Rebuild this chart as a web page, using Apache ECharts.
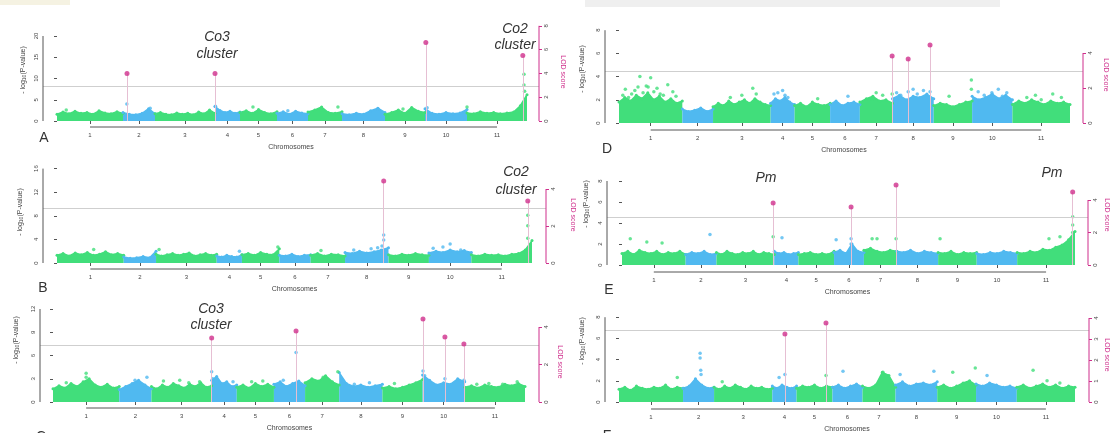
<!DOCTYPE html>
<html>
<head>
<meta charset="utf-8">
<script src="https://cdn.jsdelivr.net/npm/echarts@6/dist/echarts.min.js"></script>
<style>
html,body{margin:0;padding:0;background:#fff;}
#chart{width:1113px;height:433px;}
</style>
</head>
<body>
<div id="chart"></div>
<script>
// ---- genome map: 11 chromosomes laid end to end ----
const chromosomes = ['1','2','3','4','5','6','7','8','9','10','11'];
const chrLength = [66, 32, 60, 25, 37, 31, 34, 43, 40, 42, 60];

// ---- panel A ----
const pTicksA = [0, 5, 10, 15, 20];
const lodTicksA = [0, 2, 4, 6, 8];
const thresholdA = 8.2;
const bandA = [
  [1.6,2.1,1.7,2.3,1.8,2.0,1.6,2.4,1.9,1.7,2.2,1.8],
  [2.0,1.6,1.5,1.8,2.9,1.7],
  [1.7,2.0,1.6,1.5,1.9,1.6,1.8,1.5,2.1,1.7,2.6,1.8],
  [3.4,2.5,2.0,2.3,1.8,2.1],
  [2.0,2.4,1.8,2.7,2.0,1.7,2.2],
  [1.8,2.2,1.6,2.3,1.9,1.7],
  [2.1,2.6,3.3,2.0,1.8,2.2],
  [1.7,1.5,1.8,1.6,2.4,3.0,2.0],
  [1.6,2.0,2.6,1.8,3.2,2.3,2.0],
  [2.9,1.8,1.6,2.0,1.7,1.9,2.7],
  [1.9,1.7,2.2,1.8,2.0,1.7,1.9,2.1,3.6,6.2]
];
const snpsA = [[1,0.14,2.6],[2,0.12,4.0],[2,0.85,3.0],[4,0.02,3.5],[5,0.35,3.3],[6,0.35,2.4],
  [7,0.88,3.3],[8,0.84,2.8],[9,0.45,2.8],[10,0.05,3.1],[11,0.0,3.3],[11,0.95,8.5],[11,0.95,11.0],[11,0.96,7.0]];
const qtlA = [[2,0.125,4.0],[4,0.0,4.0],[10,0.02,6.6],[11,0.93,5.5]];

// ---- panel B ----
const pTicksB = [0, 4, 8, 12, 16];
const lodTicksB = [0, 2, 4];
const thresholdB = 9.3;
const bandB = [
  [1.3,1.6,1.2,1.7,1.4,1.8,1.3,1.5,1.9,1.4,1.6,1.3],
  [1.0,0.8,0.9,1.1,0.9,2.0],
  [1.5,1.2,1.4,1.6,1.3,1.5,1.7,1.2,1.4,1.6,1.3,1.5],
  [1.2,1.0,1.3,1.1,1.0,1.4],
  [1.4,1.6,1.3,1.8,1.5,1.4,2.4],
  [1.3,1.2,1.5,1.1,1.3,1.4],
  [1.3,1.6,1.2,1.5,1.4,1.2],
  [1.8,1.6,2.0,1.7,1.9,2.2,2.6],
  [1.4,1.2,1.5,1.3,1.6,1.4,1.3],
  [1.7,2.0,1.8,2.2,1.9,2.1,1.8],
  [1.4,1.2,1.5,1.3,1.4,1.2,1.5,1.6,2.2,3.8]
];
const snpsB = [[1,0.55,2.3],[3,0.05,2.3],[4,0.9,2.0],[5,0.96,2.7],[7,0.3,2.1],[8,0.2,2.2],[8,0.6,2.4],
  [8,0.75,2.6],[8,0.85,2.9],[8,0.89,4.75],[8,0.89,3.9],[10,0.1,2.5],[10,0.33,2.7],[10,0.5,3.2],[10,0.75,2.2],
  [11,0.93,8.1],[11,0.93,6.3],[11,0.93,4.2]];
const qtlB = [[8,0.89,4.43],[11,0.93,3.35]];

// ---- panel C ----
const pTicksC = [0, 3, 6, 9, 12];
const lodTicksC = [0, 2, 4];
const thresholdC = 7.35;
const bandC = [
  [1.7,2.1,1.8,2.4,2.0,2.6,3.0,2.2,1.9,2.3,1.8,2.0],
  [1.6,2.0,2.4,2.8,2.2,1.7],
  [2.0,1.7,2.2,1.9,2.4,2.1,1.8,2.3,2.0,2.5,1.9,2.1],
  [2.8,3.3,2.4,2.6,2.0,2.2],
  [1.9,2.2,1.8,2.4,2.0,2.3,1.9],
  [2.3,2.6,2.0,2.4,2.7,2.1],
  [2.5,3.0,2.7,3.4,2.6,2.2],
  [3.8,2.4,2.0,2.2,1.9,2.1,2.3],
  [1.8,2.0,1.7,1.9,2.2,2.5,2.9],
  [3.5,2.8,2.2,2.5,2.3,3.0,2.6],
  [1.9,2.1,1.8,2.2,2.0,1.9,2.3,2.1,2.4,2.0]
];
const snpsC = [[1,0.5,3.7],[1,0.5,3.2],[1,0.55,2.6],[1,0.2,2.5],[2,0.49,2.8],[2,0.86,3.2],[2,0.6,2.5],
  [3,0.47,2.8],[3,0.62,2.5],[3,0.2,2.7],[3,0.8,2.6],[4,0.0,3.9],[4,0.04,3.0],[4,0.6,2.3],[4,0.85,2.6],
  [5,0.4,2.6],[5,0.7,2.7],[6,0.71,6.4],[6,0.3,2.8],[7,0.25,2.7],[7,0.53,3.2],[7,0.96,3.9],[8,0.35,2.3],
  [8,0.7,2.5],[9,0.3,2.4],[10,0.01,4.0],[10,0.05,3.4],[10,0.53,3.0],[10,0.98,2.8],[11,0.2,2.3],
  [11,0.4,2.4],[11,0.63,2.3],[11,0.87,2.6]];
const qtlC = [[4,0.0,3.41],[6,0.71,3.79],[10,0.01,4.43],[10,0.53,3.47],[10,0.98,3.09]];

// ---- panel D ----
const pTicksD = [0, 2, 4, 6, 8];
const lodTicksD = [0, 2, 4];
const thresholdD = 4.48;
const bandD = [
  [1.8,2.2,1.9,2.4,2.1,2.6,2.0,2.3,1.8,2.1,1.7,1.9],
  [1.2,1.0,1.1,1.3,1.0,1.2],
  [1.4,1.7,1.5,1.9,1.6,1.8,2.0,1.7,2.1,1.8,1.6,1.5],
  [1.7,2.1,1.9,2.2,1.8,1.6],
  [1.5,1.7,1.4,1.8,1.6,1.5,1.7],
  [1.6,1.9,1.5,1.7,1.8,1.6],
  [1.8,2.1,2.3,1.9,2.0,1.7],
  [2.1,2.4,2.0,2.3,2.2,2.5,2.1],
  [1.5,1.7,1.6,1.4,1.6,1.8,1.9],
  [2.3,2.0,2.2,2.5,2.1,2.4,2.0],
  [1.6,1.9,1.7,2.0,1.8,1.6,1.9,1.7,1.8,1.6]
];
const snpsD = [[1,0.06,2.4],[1,0.1,2.9],[1,0.15,2.2],[1,0.2,2.5],[1,0.25,2.8],[1,0.3,3.1],[1,0.33,4.0],
  [1,0.38,2.6],[1,0.43,3.2],[1,0.46,3.1],[1,0.5,3.9],[1,0.55,2.7],[1,0.6,3.0],[1,0.65,2.5],[1,0.7,2.4],
  [1,0.77,3.3],[1,0.85,2.7],[1,0.9,2.3],[3,0.3,2.2],[3,0.5,2.4],[3,0.69,3.0],[3,0.75,2.5],
  [4,0.14,2.5],[4,0.3,2.6],[4,0.5,2.8],[4,0.6,2.4],[4,0.72,2.2],[5,0.65,2.1],[6,0.6,2.3],[7,0.37,2.1],
  [7,0.5,2.6],[7,0.7,2.4],[7,0.99,2.5],[8,0.1,2.6],[8,0.2,2.4],[8,0.38,2.7],[8,0.5,2.9],[8,0.6,2.5],
  [8,0.75,2.8],[8,0.91,2.7],[9,0.4,2.3],[9,0.98,3.7],[9,0.98,2.9],[10,0.15,2.7],[10,0.3,2.4],
  [10,0.49,2.6],[10,0.65,2.9],[10,0.75,2.3],[10,0.86,2.6],[11,0.25,2.2],[11,0.4,2.4],[11,0.5,2.0],
  [11,0.7,2.5],[11,0.85,2.2]];
const qtlD = [[7,0.99,3.83],[8,0.38,3.66],[8,0.91,4.46]];

// ---- panel E ----
const pTicksE = [0, 2, 4, 6, 8];
const lodTicksE = [0, 2, 4];
const thresholdE = 4.57;
const bandE = [
  [1.1,1.3,1.0,1.4,1.2,1.1,1.3,1.0,1.2,1.1,1.3,1.0],
  [1.0,1.2,1.1,1.3,1.0,1.1],
  [1.2,1.0,1.3,1.1,1.0,1.2,1.1,1.3,1.0,1.2,1.1,1.0],
  [1.3,1.1,1.2,1.0,1.1,1.2],
  [1.0,1.1,1.2,1.0,1.1,1.0,1.3],
  [1.2,1.4,1.1,2.0,1.3,1.2],
  [1.4,1.6,1.3,1.2,1.4,1.3],
  [1.3,1.2,1.4,1.1,1.3,1.2,1.1],
  [1.2,1.1,1.3,1.0,1.2,1.1,1.2],
  [1.1,1.0,1.2,1.1,1.3,1.2,1.1],
  [1.2,1.1,1.3,1.2,1.5,1.4,1.7,1.9,2.4,3.2]
];
const snpsE = [[1,0.13,2.5],[1,0.39,2.2],[1,0.63,2.1],[2,0.79,2.9],[3,0.98,2.7],[4,0.32,2.6],[6,0.07,2.4],
  [6,0.57,2.5],[6,0.57,2.0],[7,0.25,2.5],[7,0.4,2.5],[7,0.98,2.5],[9,0.05,2.5],[11,0.55,2.5],[11,0.74,2.7],
  [11,0.96,4.6],[11,0.96,3.8],[11,0.96,3.1]];
const qtlE = [[3,0.98,3.82],[6,0.57,3.57],[7,0.98,4.92],[11,0.96,4.49]];

// ---- panel F ----
const pTicksF = [0, 2, 4, 6, 8];
const lodTicksF = [0, 1, 2, 3, 4];
const thresholdF = 6.8;
const bandF = [
  [1.2,1.4,1.1,1.5,1.3,1.2,1.4,1.3,1.6,1.2,1.4,1.3],
  [1.3,1.5,2.2,1.6,1.3,1.4],
  [1.4,1.2,1.5,1.3,1.6,1.4,1.2,1.5,1.3,1.4,1.2,1.3],
  [1.5,1.3,1.6,1.4,1.3,1.5],
  [1.3,1.5,1.4,1.6,1.3,1.5,1.4],
  [1.4,1.6,1.3,1.5,1.7,1.4],
  [1.5,1.3,1.6,2.8,2.5,1.4],
  [1.6,1.9,1.5,1.7,1.8,1.6,1.9],
  [1.4,1.6,1.3,1.5,1.8,2.0,1.6],
  [1.7,1.5,1.8,1.6,1.4,1.5,1.3],
  [1.4,1.6,1.3,1.5,1.7,1.4,1.6,1.3,1.5,1.4]
];
const snpsF = [[1,0.91,2.3],[2,0.55,4.6],[2,0.55,4.15],[2,0.57,3.0],[2,0.58,2.6],[3,0.14,1.9],[4,0.28,2.3],
  [4,0.52,2.6],[5,0.82,2.5],[6,0.35,2.9],[7,0.62,2.8],[8,0.11,2.6],[8,0.92,2.9],[9,0.4,2.8],[9,0.98,3.2],
  [10,0.27,2.5],[11,0.28,3.0],[11,0.52,2.0],[11,0.74,1.8]];
const qtlF = [[4,0.52,3.24],[5,0.82,3.76]];

// ---- drawing ----
const W = 1113, H = 433;
const GREEN = '#41de7b', BLUE = '#50b9f0', MAGENTA = '#cf2f8c', AXIS = '#555', TXT = '#333';
const FONT = '"Liberation Sans", Arial, sans-serif';

const chrStart = [];
let genomeLength = 0;
chrLength.forEach(l => { chrStart.push(genomeLength); genomeLength += l; });
const chrCenter = chrStart.map((s, i) => s + chrLength[i] / 2);
const pos = (chr, frac) => chrStart[chr - 1] + frac * chrLength[chr - 1];
const chrColor = chr => (chr % 2 === 1 ? GREEN : BLUE);

// pixel frame of each panel: axis lines, data extent, zero lines and units
const panels = [
  { band: bandA, snps: snpsA, qtl: qtlA, thr: thresholdA, pTicks: pTicksA, lodTicks: lodTicksA,
    box: { axisX: 43, dataX0: 57, dataX1: 527, rightX: 539, top: 12, axisY: 127, zeroY: 121, pPx: 4.25, lodZeroY: 121, lodPx: 11.9 } },
  { band: bandB, snps: snpsB, qtl: qtlB, thr: thresholdB, pTicks: pTicksB, lodTicks: lodTicksB,
    box: { axisX: 43, dataX0: 57, dataX1: 532, rightX: 546, top: 155, axisY: 269, zeroY: 263, pPx: 5.9, lodZeroY: 263, lodPx: 18.5 } },
  { band: bandC, snps: snpsC, qtl: qtlC, thr: thresholdC, pTicks: pTicksC, lodTicks: lodTicksC,
    box: { axisX: 40, dataX0: 53, dataX1: 525, rightX: 539, top: 295, axisY: 408, zeroY: 402, pPx: 7.75, lodZeroY: 402, lodPx: 18.75 } },
  { band: bandD, snps: snpsD, qtl: qtlD, thr: thresholdD, pTicks: pTicksD, lodTicks: lodTicksD,
    box: { axisX: 605, dataX0: 619, dataX1: 1070, rightX: 1083, top: 12, axisY: 130, zeroY: 123, pPx: 11.6, lodZeroY: 123, lodPx: 17.5 } },
  { band: bandE, snps: snpsE, qtl: qtlE, thr: thresholdE, pTicks: pTicksE, lodTicks: lodTicksE,
    box: { axisX: 607, dataX0: 622, dataX1: 1075, rightX: 1088, top: 155, axisY: 272, zeroY: 265, pPx: 10.5, lodZeroY: 265, lodPx: 16.25 } },
  { band: bandF, snps: snpsF, qtl: qtlF, thr: thresholdF, pTicks: pTicksF, lodTicks: lodTicksF,
    box: { axisX: 605, dataX0: 619, dataX1: 1075, rightX: 1089, top: 295, axisY: 409, zeroY: 402, pPx: 10.6, lodZeroY: 402, lodPx: 21 } }
];

const grids = [], xAxes = [], yAxes = [], series = [];
const tickStyle = { length: 3, lineStyle: { color: AXIS, width: 1 } };
const labelStyle = { fontSize: 6, color: '#444', fontFamily: FONT };

panels.forEach((p, i) => {
  const b = p.box;
  const kx = (b.dataX1 - b.dataX0) / genomeLength;
  const xMin = -(b.dataX0 - b.axisX) / kx;
  const xMax = genomeLength + (b.rightX - b.dataX1) / kx;
  const yMin = -(b.axisY - b.zeroY) / b.pPx;
  const yMax = (b.zeroY - b.top) / b.pPx;
  const lMin = -(b.axisY - b.lodZeroY) / b.lodPx;
  const lMax = (b.lodZeroY - b.top) / b.lodPx;
  const yi = 2 * i, li = 2 * i + 1;

  grids.push({ left: b.axisX, right: W - b.rightX, top: b.top, bottom: H - b.axisY, containLabel: false, outerBoundsMode: 'none' });

  xAxes.push({
    gridIndex: i, type: 'value', min: xMin, max: xMax,
    axisLine: { show: false }, splitLine: { show: false },
    axisTick: Object.assign({ show: true, customValues: chrCenter }, tickStyle),
    axisLabel: Object.assign({ customValues: chrCenter, margin: 5,
      formatter: v => { const k = chrCenter.findIndex(c => Math.abs(c - v) < 1e-6); return k >= 0 ? chromosomes[k] : ''; } }, labelStyle),
    name: 'Chromosomes', nameLocation: 'middle', nameGap: 17,
    nameTextStyle: { fontSize: 7, color: '#444', fontFamily: FONT }
  });

  yAxes.push({
    gridIndex: i, type: 'value', position: 'left', min: yMin, max: yMax,
    axisLine: { show: false }, splitLine: { show: false },
    axisTick: Object.assign({ show: true, customValues: p.pTicks }, tickStyle),
    axisLabel: Object.assign({ customValues: p.pTicks, rotate: 90, margin: 4 }, labelStyle)
  });
  yAxes.push({
    gridIndex: i, type: 'value', position: 'right', min: lMin, max: lMax,
    axisLine: { show: false }, splitLine: { show: false },
    axisTick: Object.assign({ show: true, customValues: p.lodTicks }, { length: 3, lineStyle: { color: MAGENTA, width: 1 } }),
    axisLabel: Object.assign({ customValues: p.lodTicks, rotate: 90, margin: 4 }, labelStyle)
  });

  // dense band of markers, one filled profile per chromosome
  p.band.forEach((h, c) => {
    const n = h.length;
    const col = chrColor(c + 1);
    series.push({
      type: 'line', xAxisIndex: i, yAxisIndex: yi, silent: true, z: 2,
      data: h.map((v, j) => [chrStart[c] + chrLength[c] * j / (n - 1), v]),
      symbol: 'circle', symbolSize: 3, showSymbol: true, showAllSymbol: true,
      itemStyle: { color: col }, lineStyle: { color: col, width: 1.5 },
      areaStyle: { color: col, opacity: 1 }
    });
  });

  // scattered markers above the band, with the significance threshold
  series.push({
    type: 'scatter', xAxisIndex: i, yAxisIndex: yi, silent: true, z: 3, symbolSize: 3.5,
    data: p.snps.map(s => ({ value: [pos(s[0], s[1]), s[2]], itemStyle: { color: chrColor(s[0]) } })),
    markLine: {
      silent: true, symbol: ['none', 'none'], label: { show: false },
      lineStyle: { color: '#cfcfcf', type: 'solid', width: 1 },
      data: [{ yAxis: p.thr }]
    }
  });

  // QTL peaks on the LOD scale, each with a drop line to zero
  series.push({
    type: 'scatter', xAxisIndex: i, yAxisIndex: li, silent: true, z: 5, symbolSize: 5,
    itemStyle: { color: MAGENTA },
    data: p.qtl.map(q => [pos(q[0], q[1]), q[2]]),
    markLine: {
      silent: true, symbol: ['none', 'none'], label: { show: false },
      lineStyle: { color: '#e6bfd3', type: 'solid', width: 1 },
      data: p.qtl.map(q => [{ coord: [pos(q[0], q[1]), 0] }, { coord: [pos(q[0], q[1]), q[2]] }])
    }
  });

  // axis lines spanning only the tick range
  const axisLine = (data, yIndex, color) => ({
    type: 'line', xAxisIndex: i, yAxisIndex: yIndex, silent: true, clip: false, z: 6,
    symbol: 'none', data, lineStyle: { color, width: 1 }
  });
  series.push(axisLine([[chrCenter[0], yMin], [chrCenter[chrCenter.length - 1], yMin]], yi, AXIS));
  series.push(axisLine([[xMin, p.pTicks[0]], [xMin, p.pTicks[p.pTicks.length - 1]]], yi, AXIS));
  series.push(axisLine([[xMax, p.lodTicks[0]], [xMax, p.lodTicks[p.lodTicks.length - 1]]], li, MAGENTA));
});

// text decorations
const txt = (text, x, y, size, extra) => ({
  type: 'text', x, y, silent: true, z: 20,
  style: Object.assign({ text, fontSize: size, fontFamily: FONT, fill: TXT, align: 'center', verticalAlign: 'middle' }, extra || {})
});
const yTitle = (x, y) => ({
  type: 'text', x, y, rotation: Math.PI / 2, silent: true, z: 20,
  style: {
    text: '{a|- log}{s|10}{a|(P-value)}', align: 'center', verticalAlign: 'middle', fontFamily: FONT, fill: '#444',
    rich: { a: { fontSize: 7, fontFamily: FONT, fill: '#444' }, s: { fontSize: 5, fontFamily: FONT, fill: '#444', padding: [3, 0, 0, 0] } }
  }
});
const lodTitle = (x, y) => ({
  type: 'text', x, y, rotation: -Math.PI / 2, silent: true, z: 20,
  style: { text: 'LOD score', fontSize: 7, fontFamily: FONT, fill: MAGENTA, align: 'center', verticalAlign: 'middle' }
});
const italic = { fontStyle: 'italic', fontSize: 14 };

const graphics = [
  // faint strips along the top edge
  { type: 'rect', silent: true, z: 1, shape: { x: 0, y: 0, width: 70, height: 5 }, style: { fill: '#f5f2e2' } },
  { type: 'rect', silent: true, z: 1, shape: { x: 585, y: 0, width: 415, height: 7 }, style: { fill: '#efefef' } },
  txt('A', 44, 138, 14), txt('B', 43, 288, 14), txt('C', 41, 437, 14),
  txt('D', 607, 149, 14), txt('E', 609, 290, 14), txt('F', 607, 436, 14),
  txt('Co3', 217, 37, 14, italic), txt('cluster', 217, 54, 14, italic),
  txt('Co2', 515, 29, 14, italic), txt('cluster', 515, 45, 14, italic),
  txt('Co2', 516, 172, 14, italic), txt('cluster', 516, 190, 14, italic),
  txt('Co3', 211, 309, 14, italic), txt('cluster', 211, 325, 14, italic),
  txt('Pm', 766, 178, 14, italic), txt('Pm', 1052, 173, 14, italic),
  yTitle(23, 70), yTitle(20, 212), yTitle(16, 340),
  yTitle(582, 69), yTitle(586, 204), yTitle(582, 341),
  lodTitle(563, 72), lodTitle(573, 215), lodTitle(560, 362),
  lodTitle(1106, 75), lodTitle(1107, 215), lodTitle(1107, 355)
];

const chart = echarts.init(document.getElementById('chart'), null, { renderer: 'canvas' });
chart.setOption({
  animation: false,
  backgroundColor: '#fff',
  grid: grids,
  xAxis: xAxes,
  yAxis: yAxes,
  series,
  graphic: graphics
});
</script>
</body>
</html>
